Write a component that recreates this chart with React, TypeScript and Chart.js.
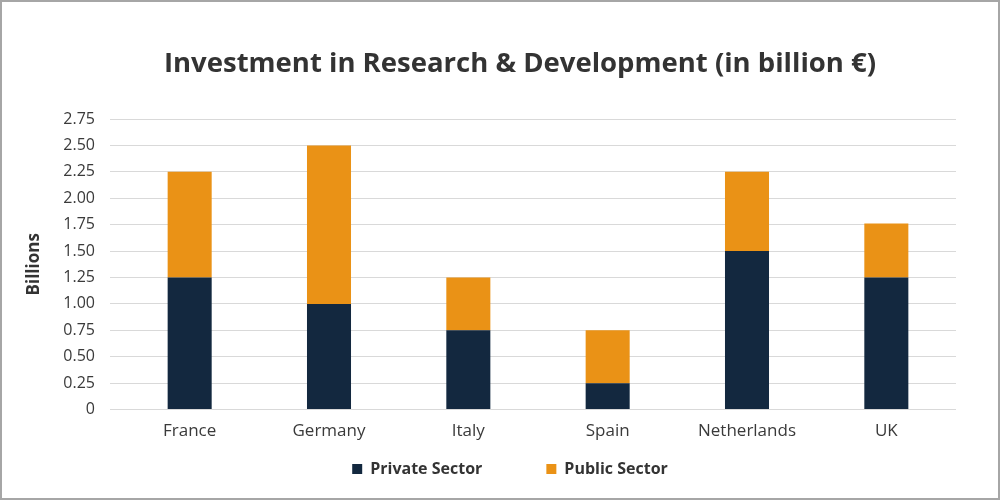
import React, { useEffect, useRef } from "react";
import { Chart, registerables } from "chart.js";

Chart.register(...registerables);

const categories = ["France", "Germany", "Italy", "Spain", "Netherlands", "UK"];
const privateSector = [1.25, 1.0, 0.75, 0.25, 1.5, 1.25];
const publicSector = [1.0, 1.5, 0.5, 0.5, 0.75, 0.51];
const seriesNames = ["Private Sector", "Public Sector"];
const yTicks = [0, 0.25, 0.5, 0.75, 1.0, 1.25, 1.5, 1.75, 2.0, 2.25, 2.5, 2.75];

const FONT = "'Open Sans', 'DejaVu Sans', sans-serif";

const shiftBlocks = {
  id: "shiftBlocks",
  afterLayout(chart: any) {
    const t = chart.titleBlock;
    if (t) {
      t.left += 30;
      t.right += 30;
    }
    const l = chart.legend;
    if (l) {
      l.left += 20;
      l.right += 20;
    }
  },
};

export default function App() {
  const ref = useRef<HTMLCanvasElement | null>(null);

  useEffect(() => {
    if (!ref.current) return;
    const chart = new Chart(ref.current, {
      type: "bar",
      data: {
        labels: categories,
        datasets: [
          {
            label: seriesNames[0],
            data: privateSector,
            backgroundColor: "#13283f",
            barPercentage: 0.316,
            categoryPercentage: 1,
          },
          {
            label: seriesNames[1],
            data: publicSector,
            backgroundColor: "#ea9216",
            barPercentage: 0.316,
            categoryPercentage: 1,
          },
        ],
      },
      plugins: [shiftBlocks],
      options: {
        animation: false,
        responsive: false,
        maintainAspectRatio: false,
        layout: { padding: { left: 24, right: 44, top: 0, bottom: 13 } },
        plugins: {
          title: {
            display: true,
            text: "Investment in Research & Development (in billion €)",
            color: "#333333",
            font: { family: FONT, size: 27.5, weight: "bold" },
            padding: { top: 48, bottom: 38 },
          },
          legend: {
            position: "bottom",
            labels: {
              color: "#333333",
              font: { family: FONT, size: 16, weight: "bold" },
              boxWidth: 10,
              boxHeight: 10,
              padding: 10,
              generateLabels: (c: any) => {
                const base = Chart.defaults.plugins.legend.labels.generateLabels(c);
                return base.map((l: any, i: number) => ({
                  ...l,
                  text: i === 0 ? l.text + "\u00a0".repeat(13) : l.text,
                  lineWidth: 0,
                }));
              },
            },
          },
          tooltip: { enabled: false },
        },
        scales: {
          x: {
            stacked: true,
            grid: { display: false },
            border: { display: false },
            afterFit: (s: any) => {
              s.height = s.height + 7;
            },
            ticks: {
              color: "#3a3a3a",
              font: { family: FONT, size: 17 },
              padding: 3,
            },
          },
          y: {
            stacked: true,
            min: 0,
            max: 2.75,
            afterFit: (s: any) => {
              s.width = 96;
            },
            afterBuildTicks: (s: any) => {
              s.ticks = yTicks.map((v) => ({ value: v }));
            },
            grid: {
              color: "#d9d9d9",
              lineWidth: 1,
              drawTicks: true,
              tickLength: 10,
              tickColor: "#d9d9d9",
            },
            border: { display: false },
            ticks: {
              color: "#3a3a3a",
              font: { family: FONT, size: 16 },
              padding: 15,
              callback: (v: any) => (Number(v) === 0 ? "0" : Number(v).toFixed(2)),
            },
            title: {
              display: true,
              text: "Billions",
              color: "#333333",
              font: { family: FONT, size: 17, weight: "bold" },
              padding: { top: 0, bottom: 0 },
            },
          },
        },
      },
    });
    return () => chart.destroy();
  }, []);

  return (
    <div
      style={{
        position: "fixed",
        left: 0,
        top: 0,
        width: 1000,
        height: 500,
        boxSizing: "border-box",
        border: "2px solid #a6a6a6",
        background: "#fff",
        overflow: "hidden",
      }}
    >
      <canvas ref={ref} width={1000} height={500} style={{ position: "absolute", left: -2, top: -2, width: 1000, height: 500 }} />
    </div>
  );
}
